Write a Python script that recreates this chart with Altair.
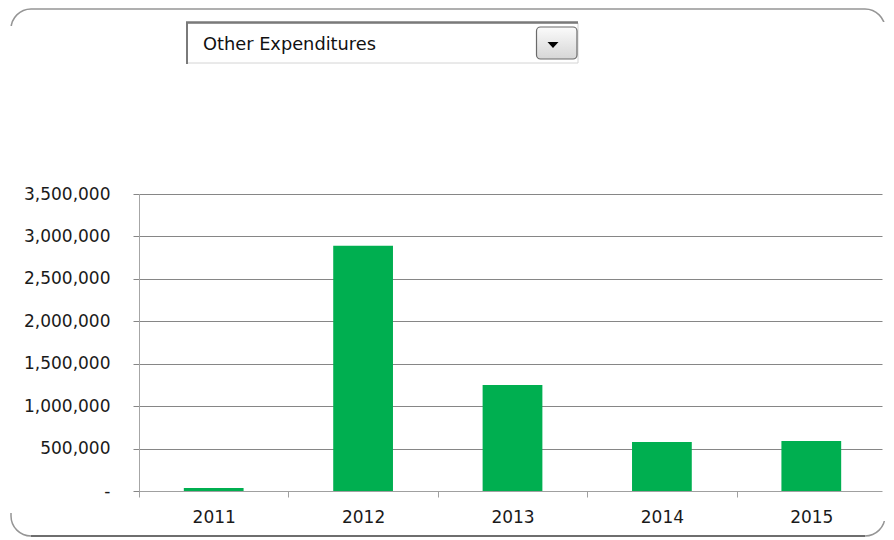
import altair as alt
import pandas as pd

# ---- data ----
years = ["2011", "2012", "2013", "2014", "2015"]
values = [35000, 2890000, 1250000, 578000, 590000]
y_ticks = [0, 500000, 1000000, 1500000, 2000000, 2500000, 3000000, 3500000]
dropdown_label = ["Other Expenditures"]

W, H = 747, 297
FONT = "DejaVu Sans"
PAD = {"left": 131, "top": 186, "right": 0, "bottom": 48}

df = pd.DataFrame({"year": years, "value": values})
one = pd.DataFrame({"k": [0]})
lab = pd.DataFrame({"label": dropdown_label})

bars = alt.Chart(df).mark_bar(color="#00AF50", width=alt.RelativeBandSize(0.4)).encode(
    x=alt.X(
        "year:N",
        sort=years,
        scale=alt.Scale(paddingInner=0, paddingOuter=0),
        axis=alt.Axis(
            title=None, labelAngle=0, tickBand="extent", ticks=True, tickSize=6,
            tickColor="#a0a0a0", domainColor="#a0a0a0", labelPadding=12,
            labelFontSize=17, labelColor="#1a1a1a", labelFont=FONT, grid=False,
        ),
    ),
    y=alt.Y(
        "value:Q",
        scale=alt.Scale(domain=[0, 3500000], nice=False),
        axis=alt.Axis(
            title=None, values=y_ticks,
            labelExpr="datum.value == 0 ? '-' : format(datum.value, ',')",
            tickSize=6, tickColor="#868686", gridColor="#868686", gridOpacity=1,
            domainColor="#a6a6a6", labelPadding=23, labelFontSize=17,
            labelColor="#1a1a1a", labelFont=FONT,
        ),
    ),
)

# outer rounded frame: top and bottom edges with corners, sides faded out
frame = alt.Chart(one).mark_rect(
    fillOpacity=0, stroke="#959595", strokeWidth=1.5, cornerRadius=20
).encode(x=alt.value(-128), x2=alt.value(W - 1), y=alt.value(-185), y2=alt.value(H + 45))
mask_left = alt.Chart(one).mark_rule(color="white", strokeWidth=5).encode(
    x=alt.value(-128), y=alt.value(-168), y2=alt.value(H + 22)
)
mask_right = alt.Chart(one).mark_rule(color="white", strokeWidth=5).encode(
    x=alt.value(W - 1), y=alt.value(-172), y2=alt.value(H + 30)
)
bottom_edge = alt.Chart(one).mark_rule(color="#6e6e6e", strokeWidth=2.2).encode(
    x=alt.value(-108), x2=alt.value(W - 21), y=alt.value(H + 45)
)

# dropdown box
box = alt.Chart(one).mark_rect(fill="white", stroke="#d4d4d4", strokeWidth=1).encode(
    x=alt.value(48), x2=alt.value(439), y=alt.value(-171), y2=alt.value(-131)
)
box_top = alt.Chart(one).mark_rule(color="#7a7a7a", strokeWidth=2.5).encode(
    x=alt.value(47), x2=alt.value(439), y=alt.value(-171.5)
)
box_left = alt.Chart(one).mark_rule(color="#7a7a7a", strokeWidth=2).encode(
    x=alt.value(48), y=alt.value(-172), y2=alt.value(-130)
)
button = alt.Chart(one).mark_rect(
    cornerRadius=4, stroke="#6a6a6a", strokeWidth=1.2,
    fill=alt.Gradient(
        gradient="linear", x1=0, x2=0, y1=0, y2=1,
        stops=[alt.GradientStop(color="#fbfbfb", offset=0),
               alt.GradientStop(color="#d6d6d6", offset=1)],
    ),
).encode(x=alt.value(397.5), x2=alt.value(438), y=alt.value(-167), y2=alt.value(-135))
arrow = alt.Chart(one).mark_point(
    shape="M-1,-0.55L1,-0.55L0,0.55Z", filled=True, color="black", opacity=1, size=121
).encode(x=alt.value(414), y=alt.value(-149))
label = alt.Chart(lab).mark_text(
    align="left", baseline="middle", font=FONT, fontSize=17.8, color="#111111"
).encode(text="label:N", x=alt.value(64), y=alt.value(-149))

chart = alt.layer(
    frame, mask_left, mask_right, bottom_edge, bars,
    box, box_top, box_left, button, arrow, label,
).properties(
    width=W, height=H,
    padding=PAD,
    autosize=alt.AutoSizeParams(type="none"),
).configure_view(stroke=None)

chart.save("out.html", embed_options={"renderer": "svg", "actions": False})
